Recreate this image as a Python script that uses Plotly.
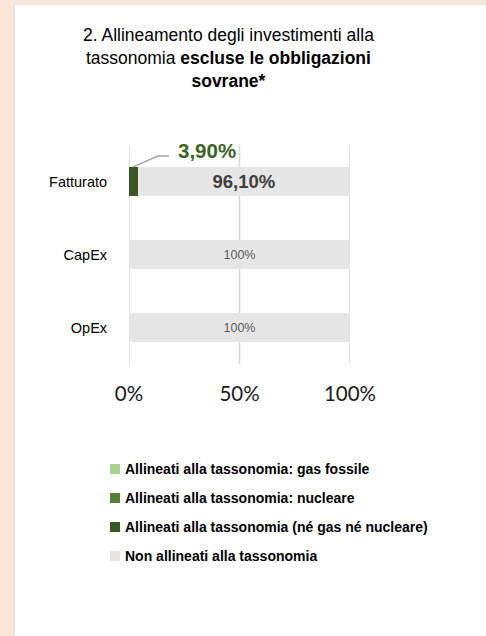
import plotly.graph_objects as go

categories = ["Fatturato", "CapEx", "OpEx"]
series_names = [
    "Allineati alla tassonomia: gas fossile",
    "Allineati alla tassonomia: nucleare",
    "Allineati alla tassonomia (né gas né nucleare)",
    "Non allineati alla tassonomia",
]
gas_fossile = [0, 0, 0]
nucleare = [0, 0, 0]
ne_gas_ne_nucleare = [3.9, 0, 0]
non_allineati = [96.1, 100, 100]
non_allineati_labels = ["<b>96,10%</b>", "100%", "100%"]
aligned_label = "3,90%"
x_tickvals = [0, 50, 100]
x_ticktext = ["0%", "50%", "100%"]

colors = ["#A9D18E", "#548235", "#385723", "#E7E6E6"]
series_values = [gas_fossile, nucleare, ne_gas_ne_nucleare, non_allineati]

# plot area geometry (pixels)
L, R, T, B = 129, 350, 145, 364
W, H = R - L, B - T
def px_x(p):
    return (p - L) / W
def px_y(p):
    return (B - p) / H

fig = go.Figure()
for i, (name, vals, col) in enumerate(zip(series_names, series_values, colors)):
    is_non = i == 3
    fig.add_trace(go.Bar(
        y=categories, x=vals, name=name, orientation="h",
        marker=dict(color=col, line=dict(width=0)),
        text=non_allineati_labels if is_non else None,
        textposition="inside" if is_non else "none",
        insidetextanchor="middle",
        textangle=0,
        constraintext="none",
        textfont=dict(family="Liberation Sans, Arial",
                      size=[18.5, 12.5, 12.5] if is_non else 12,
                      color=["#404040", "#595959", "#595959"] if is_non else "#404040"),
        hoverinfo="skip",
        showlegend=False,
    ))

# white panel (drawn first so gridlines sit on top of it)
fig.add_shape(type="rect", xref="paper", yref="paper",
              x0=px_x(14), x1=px_x(490), y0=px_y(640), y1=px_y(4),
              fillcolor="white", line=dict(color="#E3E3E3", width=1.5), layer="below")

# vertical gridlines at tick positions
for tv in x_tickvals:
    fig.add_shape(type="line", xref="x", yref="paper", x0=tv, x1=tv, y0=0, y1=1,
                  line=dict(color="#D9D9D9", width=1.5), layer="below")

# leader line + label for the aligned share (Fatturato)
v = ne_gas_ne_nucleare[0]
fig.add_shape(type="path",
              path=f"M {v*0.46},-0.2 L {v*3.35},-0.35 L {v*4.65},-0.35",
              xref="x", yref="y", line=dict(color="#A6A6A6", width=1.5), layer="above")
fig.add_annotation(x=v * 9.05, y=-0.43, xref="x", yref="y", text=f"<b>{aligned_label}</b>",
                   showarrow=False, font=dict(family="Liberation Sans, Arial", size=20.5, color="#3B6326"),
                   xanchor="center", yanchor="middle")

# title
fig.add_annotation(
    xref="paper", yref="paper", x=px_x(228), y=px_y(23),
    xanchor="center", yanchor="top", showarrow=False, align="center",
    text="2. Allineamento degli investimenti alla<br>tassonomia <b>escluse le obbligazioni</b><br><b>sovrane*</b>",
    font=dict(family="Liberation Sans, Arial", size=17.5, color="#000000"),
)

# legend (drawn manually: square + bold label per series)
legend_rows = [469, 498, 527, 556]
for name, col, ry in zip(series_names, colors, legend_rows):
    fig.add_shape(type="rect", xref="paper", yref="paper",
                  x0=px_x(110), x1=px_x(120), y0=px_y(ry + 5), y1=px_y(ry - 5),
                  fillcolor=col, line=dict(width=0))
    fig.add_annotation(xref="paper", yref="paper", x=px_x(123), y=px_y(ry),
                       xanchor="left", yanchor="middle", showarrow=False,
                       text=f"<b>{name}</b>",
                       font=dict(family="Liberation Sans, Arial", size=14, color="#000000"))

fig.update_layout(
    width=486, height=636,
    barmode="stack", bargap=0.6,
    paper_bgcolor="#FBE5D6", plot_bgcolor="rgba(0,0,0,0)",
    margin=dict(l=L, r=486 - R, t=T, b=636 - B, autoexpand=False),
    showlegend=False,
    xaxis=dict(range=[0, 100], tickvals=x_tickvals, ticktext=x_ticktext,
               showgrid=False, zeroline=False, automargin=False,
               showline=False, ticks="outside", ticklen=11, tickcolor="rgba(0,0,0,0)",
               tickfont=dict(family="Lato, Carlito", size=20.5, color="#1A1A1A"), fixedrange=True),
    yaxis=dict(range=[len(categories) - 0.5, -0.5], showgrid=False, zeroline=False, showline=False,
               automargin=False, ticks="outside", ticklen=18, tickcolor="rgba(0,0,0,0)",
               tickfont=dict(family="Liberation Sans, Arial", size=14.5, color="#000000"), fixedrange=True),
)

fig.write_html("out.html", config={"displayModeBar": False},
               post_script="document.body.style.margin='0';document.body.style.background='#FBE5D6';")
